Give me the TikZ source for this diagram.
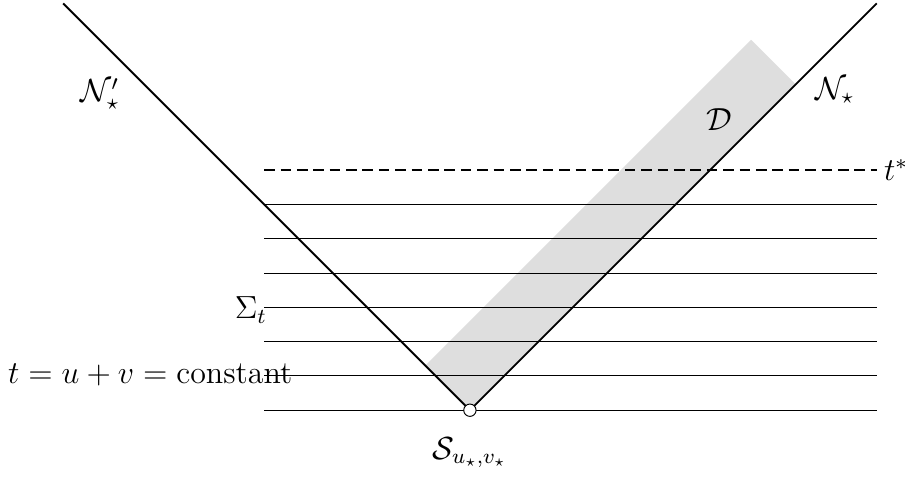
\documentclass[tikz,border=0pt]{standalone}
\usepackage{amsmath,amssymb}
\usepackage{tikz}
\usetikzlibrary{arrows.meta,calc}

\begin{document}
\begin{tikzpicture}[>=Stealth, font=\large, lbl/.style={scale=1.105, transform shape}]
    \useasboundingbox (-6.85,-0.96) rectangle (6.43,5.98);

    % 区域 D
    \fill[black!13] (0,0) -- (4.75,4.75) -- (4.1,5.4) -- (-0.65,0.65) -- cycle;

    % 等时面 Sigma_t
    \foreach \y in {0,0.5,...,3} {
        \draw (-3,\y) -- (5.93,\y);
    }
    \draw[thick, dash pattern=on 4.4pt off 2.4pt] (-3,3.5) -- (5.93,3.5);

    % 光锥 N 和 N'
    \coordinate (S) at (0,0);
    \coordinate (L) at (-5.93,5.93);
    \coordinate (R) at (5.93,5.93);
    \draw[thick] (L) -- (S) -- (R);
    \draw[fill=white] (S) circle (0.09);

    % 标签
    \node[lbl] (nl) at (-5.39,4.61) {$\mathcal{N}'_\star$};
    \node[lbl] (nr) at (5.32,4.66) {$\mathcal{N}_\star$};
    \node[lbl] (dom) at (3.64,4.23) {$\mathcal{D}$};
    \node[lbl, right] (ts) at (5.9,3.5) {$t^*$};
    \node[lbl, left, inner sep=0pt] (sig) at (-2.95,1.46) {$\Sigma_t$};
    \node[lbl] (const) at (-4.66,0.51) {$t=u+v=\text{constant}$};
    \node[lbl] (suv) at (0,-0.62) {$\mathcal{S}_{u_\star,v_\star}$};
\end{tikzpicture}
\end{document}
